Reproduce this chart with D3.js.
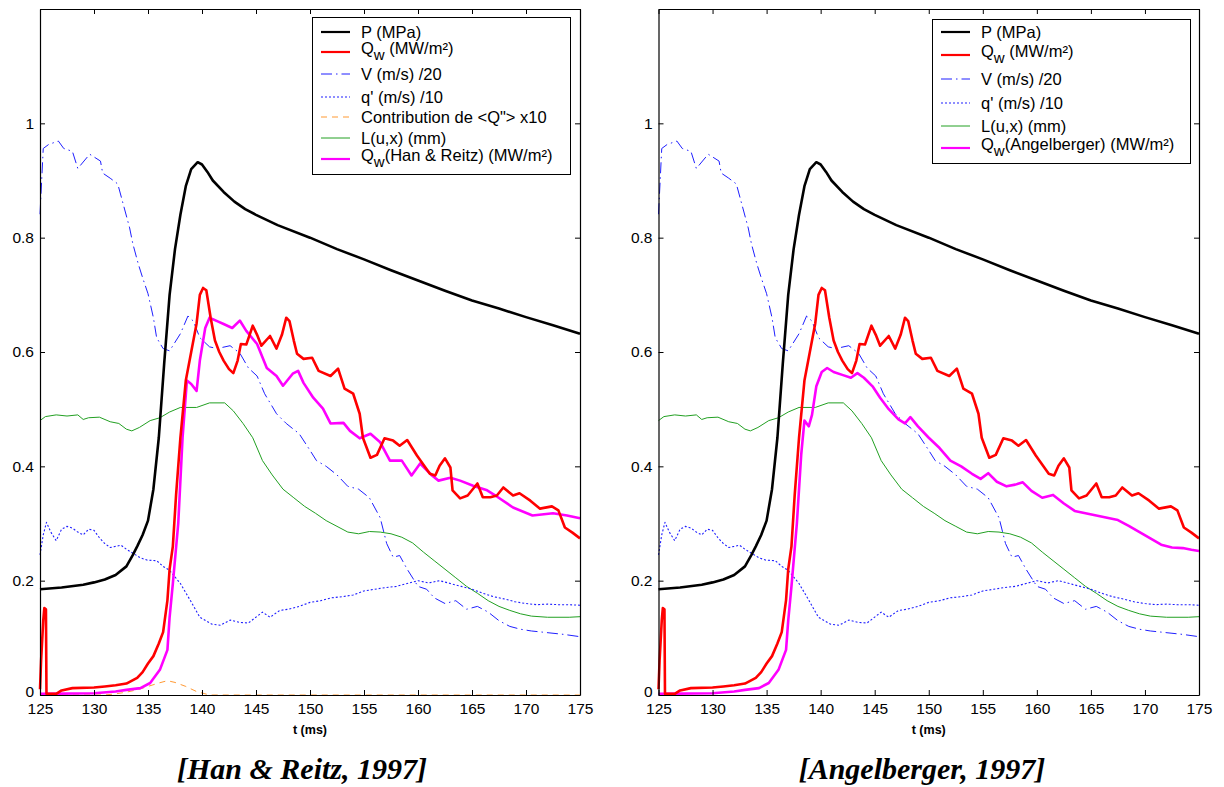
<!DOCTYPE html>
<html><head><meta charset="utf-8">
<script src="https://cdn.jsdelivr.net/npm/d3@7"></script>
<style>body{margin:0;background:#fff}svg{display:block}</style>
</head><body><svg id="c" width="1224" height="787"></svg>
<script>
// ---------- DATA ----------
const xTicks = [125,130,135,140,145,150,155,160,165,170,175];
const yTicks = [0,0.2,0.4,0.6,0.8,1];
const captions = ["[Han & Reitz, 1997]", "[Angelberger, 1997]"];
const xLabel = "t (ms)";

const pT = [125,127,129,130,131,132,133,133.6,134,134.5,135,135.5,136,136.5,137,137.5,138,138.5,139,139.6,140,140.5,141,142,143,144,145,147,150,152.5,155,157.5,160,162.5,165,167.5,170,172.5,175];
const pV = [0.185,0.188,0.193,0.197,0.202,0.21,0.225,0.245,0.26,0.28,0.305,0.36,0.45,0.58,0.70,0.78,0.84,0.89,0.92,0.932,0.928,0.915,0.9,0.88,0.863,0.85,0.84,0.822,0.8,0.78,0.762,0.743,0.725,0.707,0.69,0.676,0.661,0.647,0.632];

const qwT = [125,125.1,125.3,125.4,125.55,125.6,126.5,127,128,130,131,132,133,134,134.5,135,135.5,136,136.4,136.8,137,137.3,137.6,138,138.5,139,139.5,139.8,140.1,140.4,140.8,141.2,141.6,142,142.5,142.9,143.3,143.6,144.1,144.7,145.1,145.5,146.3,146.9,147.4,147.8,148.1,148.5,148.8,149.4,150.2,150.8,151.9,152.6,153.2,154,154.6,154.9,155.6,156.2,156.9,157.7,158.3,159,159.9,161.1,161.6,162,162.5,163,163.2,163.9,164.6,165.5,166,166.7,167.3,167.9,168.8,169.4,170.4,171.3,172.4,173,173.6,174.3,175];
const qwV = [0.01,0.06,0.13,0.152,0.15,0.002,0.002,0.008,0.012,0.013,0.015,0.017,0.02,0.03,0.04,0.055,0.068,0.09,0.11,0.166,0.22,0.26,0.35,0.45,0.55,0.6,0.65,0.7,0.712,0.708,0.66,0.62,0.6,0.585,0.57,0.563,0.585,0.614,0.613,0.646,0.63,0.611,0.628,0.606,0.63,0.66,0.654,0.62,0.597,0.588,0.59,0.567,0.558,0.571,0.536,0.527,0.492,0.45,0.415,0.42,0.449,0.445,0.436,0.446,0.419,0.387,0.384,0.401,0.414,0.398,0.358,0.344,0.349,0.37,0.346,0.346,0.349,0.363,0.349,0.353,0.34,0.326,0.33,0.323,0.293,0.284,0.274];

const hrT = [125,130,132,133,134.3,135.2,136.1,136.8,137,137.3,137.8,138.2,138.6,139,139.5,139.8,140.3,140.7,141.4,142,142.8,143.5,144.1,145.1,146,146.9,147.5,148.4,148.9,149.4,150.3,151.2,151.9,153.1,153.7,154.6,155.6,156.5,157.4,158.5,159.4,160.2,161.3,161.9,163,163.9,165.1,166.4,167.4,168.8,170.6,172.5,173.8,175];
const hrV = [0.002,0.003,0.006,0.009,0.012,0.021,0.044,0.079,0.136,0.195,0.3,0.45,0.55,0.544,0.532,0.585,0.642,0.66,0.654,0.649,0.642,0.655,0.637,0.614,0.572,0.558,0.541,0.562,0.567,0.546,0.52,0.501,0.475,0.476,0.462,0.449,0.457,0.442,0.41,0.41,0.384,0.405,0.384,0.375,0.38,0.375,0.366,0.358,0.346,0.328,0.314,0.318,0.314,0.309];

const angT = [125,130,132,133,134.3,135.2,136.1,136.8,137,137.3,137.8,138.2,138.5,138.9,139.2,139.6,140.1,140.6,141.2,142,142.8,143.4,144,144.8,145.5,146.3,147.2,147.8,148.3,149,150,151,152,153,154,154.8,155.5,156.3,157.2,158,158.7,159.5,160.5,161.5,162.5,163.5,164.5,165.5,166.5,167.5,168.5,169.5,170.5,171.5,172.5,173.5,174.3,175];
const angV = [0.002,0.003,0.006,0.009,0.012,0.021,0.044,0.079,0.13,0.19,0.3,0.42,0.48,0.47,0.49,0.54,0.565,0.572,0.565,0.56,0.555,0.563,0.555,0.54,0.52,0.5,0.482,0.475,0.486,0.47,0.45,0.432,0.41,0.4,0.387,0.378,0.388,0.373,0.365,0.368,0.372,0.357,0.345,0.35,0.335,0.322,0.318,0.314,0.31,0.306,0.296,0.285,0.274,0.263,0.258,0.257,0.254,0.252];

const vT = [125,125.3,125.8,126.7,127.2,128,128.5,129.6,130.6,130.8,131.5,132.2,132.7,133.3,133.6,134.1,134.5,135,135.5,135.8,136.4,137,138,138.7,139.2,139.8,140.7,141.4,142.6,143.5,144.3,145.1,145.8,146.9,147.8,149,150,150.6,151.5,152.5,153.5,154.5,155.5,156.5,157.1,157.7,158.3,159,160,160.8,161.5,162.5,163.5,164.5,165.5,166.5,167.5,168.5,169.5,170.5,171.5,172.5,173.5,175];
const vV = [0.841,0.956,0.963,0.969,0.956,0.951,0.921,0.946,0.934,0.913,0.904,0.894,0.859,0.817,0.789,0.754,0.73,0.702,0.66,0.625,0.606,0.602,0.632,0.663,0.654,0.625,0.609,0.606,0.611,0.598,0.572,0.558,0.527,0.492,0.475,0.457,0.428,0.41,0.4,0.385,0.365,0.36,0.345,0.31,0.265,0.241,0.244,0.22,0.19,0.185,0.17,0.16,0.165,0.15,0.155,0.145,0.13,0.12,0.115,0.112,0.11,0.108,0.106,0.102];

const qpT = [125,125.3,125.6,126,126.5,127,127.5,128,128.5,129,129.5,130,130.5,131,131.5,132,132.5,133,133.6,134.3,134.9,135.8,136.4,137,138,138.9,139.8,140.9,141.7,142.6,143.5,144.3,145.6,146.3,147.2,148,149,150,151,152,153,154,155,156,157,158,159,160,161,162,163,164,165,166,167,168,169,170,171,172,173,174,175];
const qpV = [0.245,0.28,0.302,0.285,0.27,0.29,0.295,0.292,0.285,0.28,0.29,0.288,0.275,0.265,0.258,0.26,0.262,0.255,0.248,0.24,0.236,0.235,0.225,0.218,0.195,0.166,0.136,0.124,0.122,0.131,0.127,0.126,0.145,0.136,0.148,0.15,0.155,0.162,0.165,0.17,0.172,0.175,0.182,0.185,0.188,0.19,0.195,0.2,0.196,0.2,0.195,0.19,0.185,0.178,0.172,0.168,0.163,0.16,0.158,0.159,0.158,0.158,0.157];

const lT = [125,125.5,126.5,127.5,128.5,129,129.5,130.5,131.5,132.3,133,133.5,134.2,135.2,136.1,137,138,139.5,140.7,142.1,142.9,143.8,144.7,145.6,146.5,147.5,148.5,149.5,150.5,151.5,152.5,153.5,154.5,155.5,156.5,157.5,158.5,159.5,160.5,161.5,162.5,163.5,164.5,165.5,166.5,167.5,168.5,169.5,170.5,172,174,175];
const lV = [0.48,0.487,0.49,0.488,0.49,0.482,0.485,0.486,0.478,0.475,0.465,0.462,0.468,0.48,0.485,0.495,0.503,0.503,0.511,0.511,0.497,0.475,0.45,0.41,0.385,0.36,0.345,0.33,0.318,0.305,0.295,0.285,0.282,0.286,0.285,0.282,0.276,0.266,0.25,0.235,0.22,0.205,0.19,0.178,0.165,0.155,0.148,0.142,0.138,0.136,0.136,0.137];

const cT = [125,131,132,133,134,135,136,136.8,137.5,138.5,139.5,140.5,141,175];
const cV = [0,0,0.002,0.005,0.009,0.015,0.021,0.025,0.022,0.015,0.006,0.001,0,0];

// ---------- STYLES ----------
const S = {
  P:  {color:"#000000", w:2.6, dash:null},
  Qw: {color:"#ff0000", w:2.6, dash:null},
  V:  {color:"#1f1fff", w:1, dash:"11,4,1.5,4"},
  qp: {color:"#1f1fff", w:1.1, dash:"2,2"},
  C:  {color:"#ff9933", w:1, dash:"6,5"},
  L:  {color:"#22a022", w:1, dash:null},
  M:  {color:"#ff00ff", w:2.6, dash:null}
};
const zip = (t,v)=>t.map((d,i)=>[d,v[i]]);

const svg = d3.select("#c");
svg.append("rect").attr("width",1224).attr("height",787).attr("fill","#fff");
const FONT = "'Liberation Sans', Arial, sans-serif";

function panel(cfg){
  const x = d3.scaleLinear().domain([125,175]).range([cfg.x0,cfg.x1]);
  const y = d3.scaleLinear().domain([0,1.2]).range([695,9]);
  const g = svg.append("g");
  const line = d3.line().x(d=>x(d[0])).y(d=>y(d[1]));
  cfg.series.forEach(s=>{
    const st = S[s.key];
    g.append("path").datum(zip(s.t,s.v)).attr("d",line)
      .attr("fill","none").attr("stroke",st.color).attr("stroke-width",st.w)
      .attr("stroke-linejoin","round")
      .attr("stroke-dasharray",st.dash);
  });
  const ax = (a)=>a.tickSizeInner(-5).tickSizeOuter(0);
  const bottom = g.append("g").attr("transform",`translate(0,695)`)
    .call(ax(d3.axisBottom(x)).tickValues(xTicks).tickPadding(8).tickFormat(d3.format("d")));
  const top = g.append("g").attr("transform",`translate(0,9)`)
    .call(ax(d3.axisTop(x)).tickValues(xTicks).tickFormat(""));
  const left = g.append("g").attr("transform",`translate(${cfg.x0},0)`)
    .call(ax(d3.axisLeft(y)).tickValues(yTicks).tickPadding(6).tickFormat(d3.format("~g")));
  const right = g.append("g").attr("transform",`translate(${cfg.x1},0)`)
    .call(ax(d3.axisRight(y)).tickValues(yTicks).tickFormat(""));
  [bottom,top,left,right].forEach(a=>{
    a.selectAll("path.domain").attr("stroke","#000").attr("stroke-width",1.2);
    a.selectAll(".tick line").attr("stroke","#000");
    a.selectAll("text").attr("font-family",FONT).attr("font-size",15.5).attr("fill","#000");
  });
  // lift the "0" label slightly so it sits just above the "125" label
  left.selectAll(".tick").filter(d=>d===0).select("text").attr("dy","0.1em");
  g.append("text").attr("x",(cfg.x0+cfg.x1)/2).attr("y",734).attr("text-anchor","middle")
    .attr("font-family",FONT).attr("font-weight","bold").attr("font-size",12.5).text(xLabel);
  g.append("text").attr("x",cfg.capX).attr("y",779).attr("text-anchor","middle")
    .attr("font-family","'Liberation Serif','Times New Roman',serif").attr("font-weight","bold")
    .attr("font-style","italic").attr("font-size",30).text(cfg.caption);
  const lg = cfg.legend;
  g.append("rect").attr("x",lg.x+0.5).attr("y",lg.y+0.5).attr("width",lg.w).attr("height",lg.h)
    .attr("fill","#fff").attr("stroke","#000").attr("stroke-width",1);
  lg.items.forEach(it=>{
    const st = S[it.key];
    g.append("line").attr("x1",lg.x+9).attr("x2",lg.x+38).attr("y1",it.y).attr("y2",it.y)
      .attr("stroke",st.color).attr("stroke-width",Math.min(st.w,2.2)).attr("stroke-dasharray",st.dash);
    const t = g.append("text").attr("x",lg.x+49).attr("font-family",FONT).attr("font-size",16.5).attr("fill","#000");
    if(it.sub){
      t.attr("y",it.y+2);
      t.append("tspan").text(it.pre);
      t.append("tspan").attr("dy",6).attr("font-size",15).text(it.sub);
      t.append("tspan").attr("dy",-6).text(it.post);
    } else {
      t.attr("y",it.y+6).text(it.label);
    }
  });
}

panel({
  x0:40, x1:580, caption:captions[0], capX:302,
  series:[
    {key:"C", t:cT, v:cV},
    {key:"L", t:lT, v:lV},
    {key:"qp", t:qpT, v:qpV},
    {key:"V", t:vT, v:vV},
    {key:"P", t:pT, v:pV},
    {key:"M", t:hrT, v:hrV},
    {key:"Qw", t:qwT, v:qwV}
  ],
  legend:{x:312, y:17, w:258, h:157, items:[
    {key:"P", y:32, label:"P (MPa)"},
    {key:"Qw", y:52, sub:"w", pre:"Q", post:" (MW/m²)"},
    {key:"V", y:74, label:"V (m/s) /20"},
    {key:"qp", y:97, label:"q' (m/s) /10"},
    {key:"C", y:117, label:"Contribution de <Q\"> x10"},
    {key:"L", y:138, label:"L(u,x) (mm)"},
    {key:"M", y:159, sub:"w", pre:"Q", post:"(Han & Reitz) (MW/m²)"}
  ]}
});

panel({
  x0:658.5, x1:1199, caption:captions[1], capX:922,
  series:[
    {key:"L", t:lT, v:lV},
    {key:"qp", t:qpT, v:qpV},
    {key:"V", t:vT, v:vV},
    {key:"P", t:pT, v:pV},
    {key:"M", t:angT, v:angV},
    {key:"Qw", t:qwT, v:qwV}
  ],
  legend:{x:932, y:19, w:258, h:144, items:[
    {key:"P", y:32, label:"P (MPa)"},
    {key:"Qw", y:55, sub:"w", pre:"Q", post:" (MW/m²)"},
    {key:"V", y:79, label:"V (m/s) /20"},
    {key:"qp", y:103, label:"q' (m/s) /10"},
    {key:"L", y:126, label:"L(u,x) (mm)"},
    {key:"M", y:148, sub:"w", pre:"Q", post:"(Angelberger) (MW/m²)"}
  ]}
});
</script></body></html>
